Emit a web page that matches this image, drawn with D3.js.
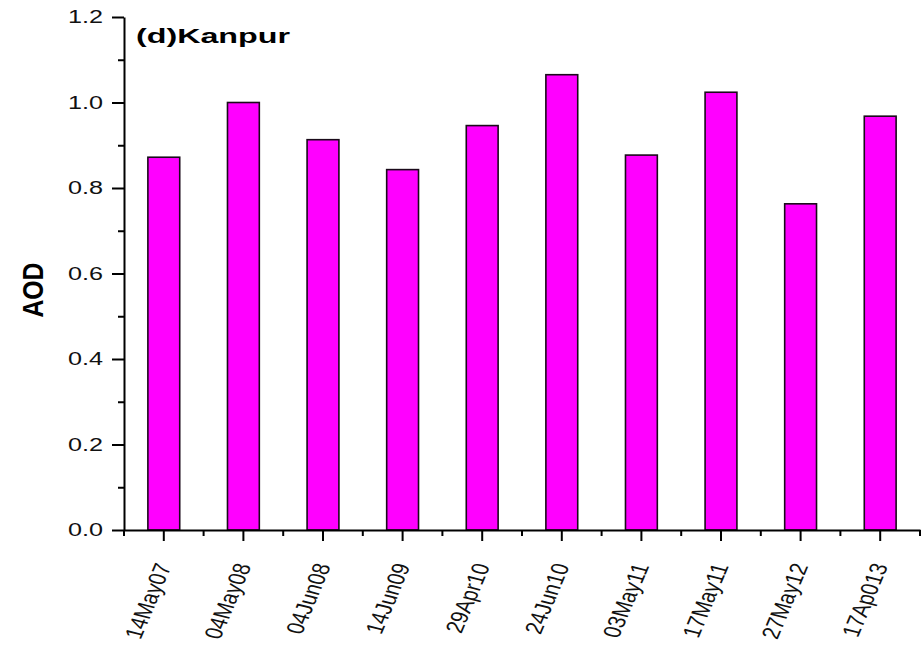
<!DOCTYPE html>
<html><head><meta charset="utf-8">
<script src="https://cdn.jsdelivr.net/npm/d3@7"></script>
<style>body{margin:0;background:#fff;} text{font-family:"Liberation Sans",Arial,sans-serif;}</style>
</head><body>
<svg id="c" width="924" height="657"></svg>
<script>
const categories = ["14May07","04May08","04Jun08","14Jun09","29Apr10","24Jun10","03May11","17May11","27May12","17Ap013"];
const aod = [0.872, 1.0, 0.913, 0.843, 0.946, 1.065, 0.877, 1.024, 0.763, 0.968];
const yTicks = [0, 0.2, 0.4, 0.6, 0.8, 1.0, 1.2];
const yMinor = [0.1, 0.3, 0.5, 0.7, 0.9, 1.1];
const title = "(d)Kanpur";
const yLabel = "AOD";

(function(){
const svg = d3.select("#c");
const pl = 124, pr = 920, pt = 17, pb = 530;
const x = d3.scaleBand().domain(categories).range([pl, pr]).paddingInner(0.6).paddingOuter(0.3);
const y = d3.scaleLinear().domain([0, 1.2]).range([pb, pt]);

// bars
svg.append("g").selectAll("rect").data(aod).join("rect")
  .attr("x", (d,i) => x(categories[i]))
  .attr("width", x.bandwidth())
  .attr("y", d => y(d))
  .attr("height", d => y(0) - y(d))
  .attr("fill", "#ff00ff").attr("stroke", "#1a0a1a").attr("stroke-width", 1.6);

// y axis
const ya = svg.append("g").attr("transform", `translate(${pl},0)`)
  .call(d3.axisLeft(y).tickValues(yTicks).tickFormat(d3.format(".1f")).tickSizeInner(12).tickSizeOuter(0).tickPadding(9));
ya.select(".domain").attr("stroke-width", 2);
ya.selectAll(".tick line").attr("stroke-width", 2);
ya.selectAll("text").attr("font-size", 18).attr("fill", "#111")
  .attr("font-family", "Liberation Sans, Arial, sans-serif")
  .attr("textLength", 35).attr("lengthAdjust", "spacingAndGlyphs");
const yam = svg.append("g").attr("transform", `translate(${pl},0)`)
  .call(d3.axisLeft(y).tickValues(yMinor).tickFormat("").tickSizeInner(6).tickSizeOuter(0));
yam.select(".domain").remove();
yam.selectAll(".tick line").attr("stroke-width", 2);

// x axis
const xa = svg.append("g").attr("transform", `translate(0,${pb})`)
  .call(d3.axisBottom(x).tickSizeInner(11).tickSizeOuter(0).tickFormat(""));
xa.select(".domain").attr("stroke-width", 2);
xa.selectAll(".tick line").attr("stroke-width", 2);
const step = x.step();
const xm = svg.append("g").attr("transform", `translate(0,${pb})`);
xm.selectAll("line").data(d3.range(categories.length + 1)).join("line")
  .attr("x1", i => pl + i * step).attr("x2", i => pl + i * step)
  .attr("y1", 0).attr("y2", 6).attr("stroke", "#000").attr("stroke-width", 2);

// x labels rotated (figure appears horizontally stretched)
svg.append("g").selectAll("text").data(categories).join("text")
  .attr("transform", d => `translate(${x(d) + x.bandwidth()/2 + 8},${566}) scale(1.3,1) rotate(-72)`)
  .attr("text-anchor", "end")
  .attr("font-size", 19).attr("fill", "#111").text(d => d);

// title
svg.append("text").attr("x", 136).attr("y", 43).attr("font-size", 21).attr("font-weight", "bold")
  .attr("textLength", 154).attr("lengthAdjust", "spacingAndGlyphs").text(title);

// y label
svg.append("text").attr("transform", `translate(43,290) rotate(-90)`).attr("text-anchor", "middle")
  .attr("font-size", 30).attr("font-weight", "bold")
  .attr("textLength", 55).attr("lengthAdjust", "spacingAndGlyphs").text(yLabel);
})();
</script>
</body></html>
